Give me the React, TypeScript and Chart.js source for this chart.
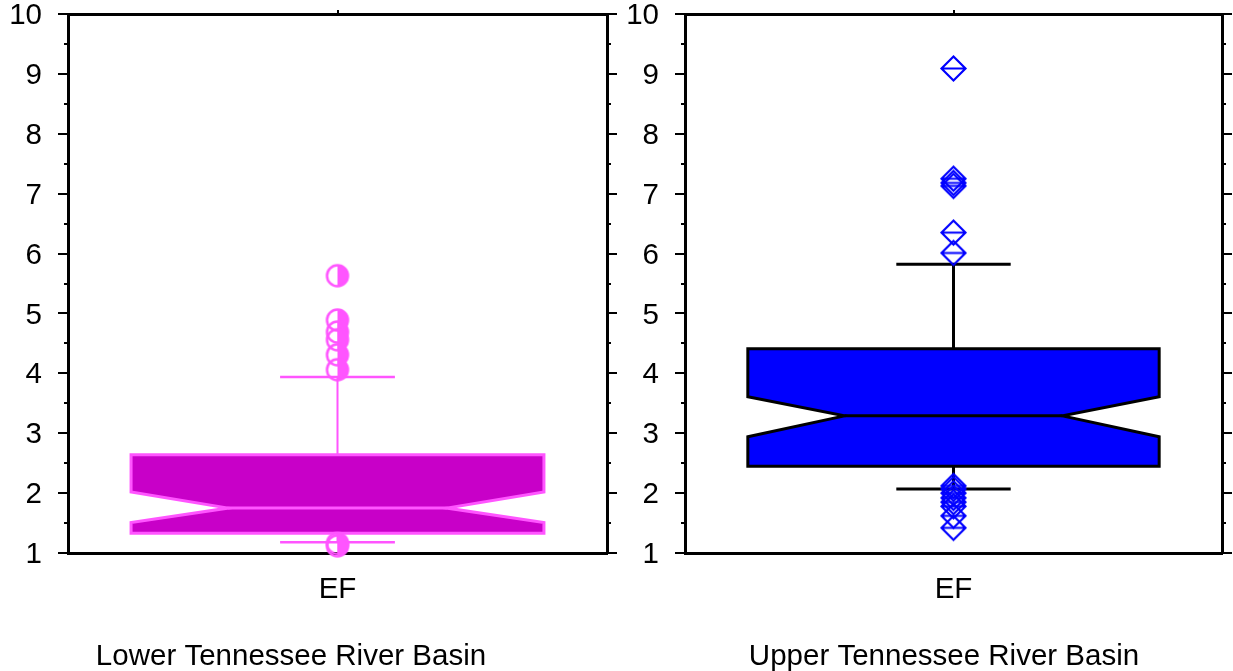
import React, { useEffect, useRef } from 'react';
import { Chart, registerables } from 'chart.js';

Chart.register(...registerables);

// ---------------- data ----------------
const CATEGORIES = ['EF'];
const Y_MIN = 1;
const Y_MAX = 10;
const Y_STEP = 1;
const MINOR_TICKS = [1.5, 2.5, 3.5, 4.5, 5.5, 6.5, 7.5, 8.5, 9.5];

const LOWER_TITLE = 'Lower Tennessee River Basin';
const UPPER_TITLE = 'Upper Tennessee River Basin';

// [whiskerLow, q1, notchLow, median, notchHigh, q3, whiskerHigh]
const LOWER_BOX = [1.18, 1.33, 1.51, 1.75, 2.02, 2.64, 3.94];
const LOWER_OUTLIERS = [5.63, 4.89, 4.69, 4.56, 4.31, 4.06, 1.16, 1.12];

const UPPER_BOX = [2.07, 2.45, 2.94, 3.29, 3.61, 4.41, 5.82];
const UPPER_OUTLIERS = [9.09, 7.25, 7.18, 7.13, 6.35, 6.01, 2.12, 2.07, 2.0, 1.92, 1.85, 1.78, 1.62, 1.42];

// ---------------- styling / layout ----------------
const FONT_FAMILY = '"Liberation Sans", Arial, Helvetica, sans-serif';
const FONT_SIZE = 29.5;

type PanelCfg = {
  title: string;
  box: number[];
  outliers: number[];
  fill: string;
  stroke: string;
  boxLineWidth: number;
  whiskerColor: string;
  whiskerWidth: number;
  capWidth: number;
  marker: 'halfCircle' | 'diamond';
  markerColor: string;
  canvasLeft: number;
  canvasWidth: number;
  yWidth: number;
  y2Width: number;
  captionX: number;
};

const PANELS: PanelCfg[] = [
  {
    title: LOWER_TITLE,
    box: LOWER_BOX,
    outliers: LOWER_OUTLIERS,
    fill: '#C800C8',
    stroke: '#FF55FF',
    boxLineWidth: 3,
    whiskerColor: '#FF55FF',
    whiskerWidth: 2,
    capWidth: 2.5,
    marker: 'halfCircle',
    markerColor: '#FF55FF',
    canvasLeft: 0,
    canvasWidth: 620,
    yWidth: 68,
    y2Width: 13,
    captionX: 291,
  },
  {
    title: UPPER_TITLE,
    box: UPPER_BOX,
    outliers: UPPER_OUTLIERS,
    fill: '#0000FF',
    stroke: '#000000',
    boxLineWidth: 3,
    whiskerColor: '#000000',
    whiskerWidth: 3,
    capWidth: 3,
    marker: 'diamond',
    markerColor: '#0000FF',
    canvasLeft: 620,
    canvasWidth: 613,
    yWidth: 65,
    y2Width: 10,
    captionX: 324,
  },
];

const CANVAS_HEIGHT = 671;
const TOP_AXIS_HEIGHT = 14;
const BOTTOM_AXIS_HEIGHT = 118;

// ---------------- markers ----------------
function makeHalfCircle(color: string, r: number, lw: number): HTMLCanvasElement {
  const size = Math.ceil(2 * r + lw + 2);
  const c = document.createElement('canvas');
  c.width = size;
  c.height = size;
  const ctx = c.getContext('2d')!;
  const cx = size / 2;
  const cy = size / 2;
  ctx.fillStyle = color;
  ctx.beginPath();
  ctx.arc(cx, cy, r, -Math.PI / 2, Math.PI / 2);
  ctx.closePath();
  ctx.fill();
  ctx.strokeStyle = color;
  ctx.lineWidth = lw;
  ctx.beginPath();
  ctx.arc(cx, cy, r, 0, Math.PI * 2);
  ctx.stroke();
  return c;
}

function makeDiamond(color: string, r: number, lw: number): HTMLCanvasElement {
  const size = Math.ceil(2 * r + lw + 2);
  const c = document.createElement('canvas');
  c.width = size;
  c.height = size;
  const ctx = c.getContext('2d')!;
  const cx = size / 2;
  const cy = size / 2;
  ctx.strokeStyle = color;
  ctx.lineWidth = lw;
  ctx.lineJoin = 'miter';
  ctx.beginPath();
  ctx.moveTo(cx, cy - r);
  ctx.lineTo(cx + r, cy);
  ctx.lineTo(cx, cy + r);
  ctx.lineTo(cx - r, cy);
  ctx.closePath();
  ctx.moveTo(cx - r, cy);
  ctx.lineTo(cx + r, cy);
  ctx.stroke();
  return c;
}

// ---------------- plugins ----------------
const notchedBoxPlugin = {
  id: 'notchedBox',
  beforeDatasetsDraw(chart: any, _args: any, opts: any) {
    const { ctx, chartArea } = chart;
    const xs = chart.scales.x;
    const ys = chart.scales.y;
    const [wLo, q1, nLo, med, nHi, q3, wHi] = opts.stats as number[];
    const cx = xs.getPixelForValue(0);
    const catW = chartArea.right - chartArea.left;
    const half = (catW * opts.boxFrac) / 2;
    const indent = half * opts.notchFrac;
    const capHalf = (catW * opts.capFrac) / 2;
    const Y = (v: number) => ys.getPixelForValue(v);
    ctx.save();
    // whiskers
    ctx.strokeStyle = opts.whiskerColor;
    ctx.lineWidth = opts.whiskerWidth;
    ctx.beginPath();
    ctx.moveTo(cx, Y(q3));
    ctx.lineTo(cx, Y(wHi));
    ctx.moveTo(cx, Y(q1));
    ctx.lineTo(cx, Y(wLo));
    ctx.stroke();
    ctx.lineWidth = opts.capWidth;
    ctx.beginPath();
    ctx.moveTo(cx - capHalf, Y(wHi));
    ctx.lineTo(cx + capHalf, Y(wHi));
    ctx.moveTo(cx - capHalf, Y(wLo));
    ctx.lineTo(cx + capHalf, Y(wLo));
    ctx.stroke();
    // notched box
    const x0 = cx - half;
    const x1 = cx + half;
    ctx.beginPath();
    ctx.moveTo(x0, Y(q3));
    ctx.lineTo(x1, Y(q3));
    ctx.lineTo(x1, Y(nHi));
    ctx.lineTo(x1 - indent, Y(med));
    ctx.lineTo(x1, Y(nLo));
    ctx.lineTo(x1, Y(q1));
    ctx.lineTo(x0, Y(q1));
    ctx.lineTo(x0, Y(nLo));
    ctx.lineTo(x0 + indent, Y(med));
    ctx.lineTo(x0, Y(nHi));
    ctx.closePath();
    ctx.fillStyle = opts.fill;
    ctx.fill();
    ctx.strokeStyle = opts.stroke;
    ctx.lineWidth = opts.boxLineWidth;
    ctx.lineJoin = 'miter';
    ctx.stroke();
    // median
    ctx.beginPath();
    ctx.moveTo(x0 + indent, Y(med));
    ctx.lineTo(x1 - indent, Y(med));
    ctx.stroke();
    ctx.restore();
  },
};

const minorTicksPlugin = {
  id: 'minorTicks',
  afterDraw(chart: any, _args: any, opts: any) {
    const { ctx, chartArea } = chart;
    const ys = chart.scales.y;
    ctx.save();
    ctx.strokeStyle = '#000';
    ctx.lineWidth = 2;
    ctx.beginPath();
    for (const v of opts.values as number[]) {
      const y = Math.round(ys.getPixelForValue(v));
      ctx.moveTo(chartArea.left - opts.length, y);
      ctx.lineTo(chartArea.left, y);
      ctx.moveTo(chartArea.right, y);
      ctx.lineTo(chartArea.right + opts.length, y);
    }
    ctx.stroke();
    ctx.restore();
  },
};

const captionPlugin = {
  id: 'caption',
  afterDraw(chart: any, _args: any, opts: any) {
    const { ctx } = chart;
    ctx.save();
    ctx.font = `${FONT_SIZE}px ${FONT_FAMILY}`;
    ctx.fillStyle = '#000';
    ctx.textAlign = 'center';
    ctx.textBaseline = 'alphabetic';
    ctx.fillText(opts.text, opts.x, opts.y);
    ctx.restore();
  },
};

// ---------------- component ----------------
function BoxPanel({ cfg }: { cfg: PanelCfg }) {
  const ref = useRef<HTMLCanvasElement | null>(null);

  useEffect(() => {
    if (!ref.current) return;
    const marker =
      cfg.marker === 'halfCircle'
        ? makeHalfCircle(cfg.markerColor, 10.5, 2.5)
        : makeDiamond(cfg.markerColor, 12, 2.2);

    const tickFont = { family: FONT_FAMILY, size: FONT_SIZE };
    const yTicks: number[] = [];
    for (let v = Y_MIN; v <= Y_MAX + 1e-9; v += Y_STEP) yTicks.push(v);

    const chart = new Chart(ref.current, {
      type: 'line',
      data: {
        labels: CATEGORIES,
        datasets: [
          {
            label: 'outliers',
            data: cfg.outliers.map((v) => ({ x: CATEGORIES[0], y: v })) as any,
            showLine: false,
            pointStyle: marker as any,
            pointRadius: 10,
            pointHoverRadius: 10,
            clip: false as any,
          },
        ],
      },
      plugins: [notchedBoxPlugin, minorTicksPlugin, captionPlugin] as any,
      options: {
        animation: false,
        responsive: false,
        devicePixelRatio: 1,
        events: [],
        layout: { padding: 0 },
        plugins: {
          legend: { display: false },
          tooltip: { enabled: false },
          notchedBox: {
            stats: cfg.box,
            boxFrac: 0.766,
            notchFrac: 0.47,
            capFrac: 0.213,
            fill: cfg.fill,
            stroke: cfg.stroke,
            boxLineWidth: cfg.boxLineWidth,
            whiskerColor: cfg.whiskerColor,
            whiskerWidth: cfg.whiskerWidth,
            capWidth: cfg.capWidth,
          },
          minorTicks: { values: MINOR_TICKS, length: 4 },
          caption: { text: cfg.title, x: cfg.captionX, y: 665 },
        } as any,
        scales: {
          x: {
            type: 'category',
            position: 'bottom',
            offset: true,
            grid: { display: true, drawOnChartArea: false, drawTicks: false, color: '#000' },
            border: { display: true, color: '#000', width: 3 },
            ticks: { font: tickFont, color: '#000', padding: 19 },
            afterFit: (s: any) => {
              s.height = BOTTOM_AXIS_HEIGHT;
              s.paddingLeft = 0;
              s.paddingRight = 0;
            },
          },
          xTop: {
            type: 'category',
            position: 'top',
            labels: CATEGORIES,
            offset: true,
            grid: {
              display: true,
              drawOnChartArea: false,
              drawTicks: true,
              tickLength: 4,
              lineWidth: 2,
              color: '#000',
            },
            border: { display: true, color: '#000', width: 3 },
            ticks: { display: false },
            afterFit: (s: any) => {
              s.height = TOP_AXIS_HEIGHT;
              s.paddingLeft = 0;
              s.paddingRight = 0;
            },
          },
          y: {
            type: 'linear',
            position: 'left',
            min: Y_MIN,
            max: Y_MAX,
            afterBuildTicks: (s: any) => {
              s.ticks = yTicks.map((v) => ({ value: v }));
            },
            grid: {
              display: true,
              drawOnChartArea: false,
              drawTicks: true,
              tickLength: 10,
              lineWidth: 2,
              color: '#000',
            },
            border: { display: true, color: '#000', width: 3 },
            ticks: { font: tickFont, color: '#000', padding: 16, labelOffset: 2 },
            afterFit: (s: any) => {
              s.width = cfg.yWidth;
              s.paddingTop = 0;
              s.paddingBottom = 0;
            },
          },
          y2: {
            type: 'linear',
            position: 'right',
            min: Y_MIN,
            max: Y_MAX,
            afterBuildTicks: (s: any) => {
              s.ticks = yTicks.map((v) => ({ value: v }));
            },
            grid: {
              display: true,
              drawOnChartArea: false,
              drawTicks: true,
              tickLength: 10,
              lineWidth: 2,
              color: '#000',
            },
            border: { display: true, color: '#000', width: 3 },
            ticks: { display: false },
            afterFit: (s: any) => {
              s.width = cfg.y2Width;
              s.paddingTop = 0;
              s.paddingBottom = 0;
            },
          },
        } as any,
      },
    });
    return () => chart.destroy();
  }, [cfg]);

  return (
    <canvas
      ref={ref}
      width={cfg.canvasWidth}
      height={CANVAS_HEIGHT}
      style={{
        position: 'absolute',
        left: cfg.canvasLeft,
        top: 0,
        width: cfg.canvasWidth,
        height: CANVAS_HEIGHT,
      }}
    />
  );
}

export default function App() {
  return (
    <div
      style={{
        position: 'absolute',
        left: 0,
        top: 0,
        width: 1233,
        height: CANVAS_HEIGHT,
        background: '#fff',
        overflow: 'hidden',
      }}
    >
      {PANELS.map((p) => (
        <BoxPanel key={p.title} cfg={p} />
      ))}
    </div>
  );
}
